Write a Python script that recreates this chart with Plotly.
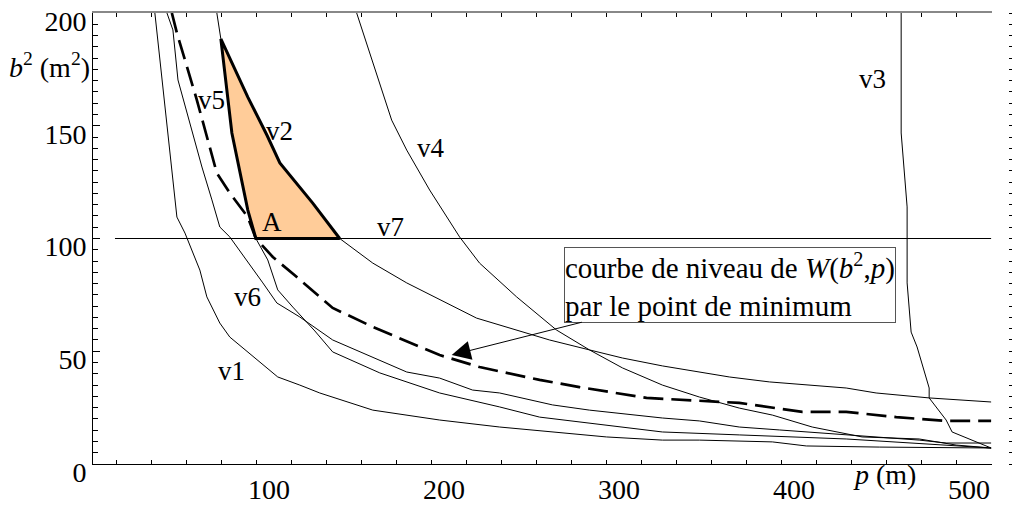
import plotly.graph_objects as go

# ---------------- data (p in m, b^2 in m^2) ----------------
p_v1 = [42.2, 48.5, 54.8, 59.4, 67.9, 71.9, 79.3, 85.0, 100.5, 112.4, 125.0, 136.4, 166.7, 204.9,
        239.2, 269.4, 300.2, 332.2, 353.3, 395.0, 414.4, 456.1, 520.0]
b_v1 = [200.0, 154.8, 109.5, 102.4, 86.0, 74.1, 62.5, 56.3, 46.1, 38.6, 35.0, 31.5, 23.9, 19.5,
        16.4, 14.2, 12.0, 10.6, 10.6, 9.8, 8.0, 7.5, 7.1]

p_v6 = [49.1, 52.5, 55.4, 69.1, 74.8, 79.3, 85.0, 94.7, 103.9, 111.9, 125.0, 143.8, 170.7, 186.1,
        204.9, 223.7, 239.2, 269.4, 290.5, 332.2, 353.3, 376.1, 399.0, 437.2, 478.9, 494.3, 520.0]
b_v6 = [200.0, 192.5, 170.3, 131.7, 117.1, 105.1, 100.7, 90.5, 80.3, 71.4, 65.2, 55.0, 46.1, 40.8,
        38.1, 32.8, 31.5, 26.2, 23.9, 20.4, 19.1, 16.4, 15.1, 12.9, 10.6, 9.3, 9.3]

p_v5 = [77.6, 79.9, 83.9, 86.2, 95.3, 99.9, 106.7, 112.4, 121.0, 133.6, 143.8, 170.7, 204.9,
        239.2, 262.0, 290.5, 332.2, 376.1, 437.2, 520.0]
b_v5 = [200.0, 188.5, 161.4, 146.8, 112.6, 100.0, 90.5, 77.2, 69.6, 59.0, 49.7, 40.4, 31.5,
        25.3, 20.8, 18.2, 14.2, 12.9, 11.1, 7.1]

p_v2 = [79.9, 95.3, 106.2, 113.6, 132.4, 147.8, 166.7, 186.1, 226.0, 267.7, 290.5, 309.4, 332.2,
        353.3, 370.4, 393.3, 437.2, 454.3, 484.6, 520.0]
b_v2 = [188.5, 162.7, 145.9, 133.5, 115.7, 100.0, 89.1, 80.3, 64.7, 55.0, 50.6, 47.0, 43.5,
        40.8, 38.6, 36.4, 33.7, 31.5, 29.3, 27.5]

p_v4 = [157.5, 166.1, 177.5, 186.1, 199.2, 216.3, 227.7, 248.9, 271.7, 290.5, 309.4, 332.2, 353.3,
        376.1, 395.0, 417.8, 446.3, 478.9, 500.0, 520.0]
b_v4 = [200.0, 179.2, 152.5, 139.2, 121.5, 100.7, 89.1, 74.1, 59.4, 50.6, 42.6, 35.0, 29.7,
        24.8, 21.7, 16.4, 12.0, 11.1, 8.4, 7.1]

p_v3 = [468.6, 468.6, 472.0, 472.0, 474.3, 477.7, 484.6, 484.6, 494.3, 497.7, 520.0]
b_v3 = [200.0, 146.8, 114.0, 80.3, 58.5, 51.9, 33.7, 29.3, 19.5, 14.2, 7.1]

p_v7 = [19.4, 520.0]
b_v7 = [100.0, 100.0]

p_W = [51.9, 54.8, 66.2, 77.6, 85.0, 95.3, 99.9, 109.6, 123.3, 136.4, 143.8, 166.7, 204.9, 227.7,
       262.0, 284.8, 323.1, 376.1, 412.1, 437.2, 465.8, 494.3, 520.0]
b_W = [200.0, 191.1, 161.4, 129.0, 120.2, 109.5, 100.0, 91.8, 82.9, 74.1, 69.2, 60.8, 48.3, 43.0,
       37.3, 34.1, 29.3, 27.1, 23.1, 23.1, 20.8, 19.1, 19.1]

x_tick_labels = [100, 200, 300, 400, 500]
y_tick_labels = [0, 50, 100, 150, 200]

curve_labels = ["v1", "v6", "v5", "v2", "A", "v7", "v4", "v3"]
label_p = [86.2, 95.3, 74.8, 113.6, 109.0, 176.9, 199.8, 452.1]
label_b = [41.2, 74.1, 161.4, 147.7, 107.3, 105.1, 140.1, 170.7]

box_text = "courbe de niveau de <i>W</i>(<i>b</i><sup>2</sup>,<i>p</i>)<br>par le point de minimum"
arrow_tip = (211.8, 48.3)
box_center = (371.0, 79.5)

X_RANGE = [6.85, 520.5]
Y_RANGE = [0, 200]
FONT = "Liberation Serif"

fig = go.Figure()

# admissible region (triangle) bounded by v5, v2 and v7
tri_p = p_v5[1:6] + p_v2[5::-1]
tri_b = b_v5[1:6] + b_v2[5::-1]
fig.add_trace(go.Scatter(x=tri_p, y=tri_b, mode="lines", fill="toself",
                         fillcolor="#FFCC99", line=dict(color="black", width=3),
                         hoverinfo="skip"))

thin = dict(color="black", width=1)
for px, bx in [(p_v1, b_v1), (p_v6, b_v6), (p_v5, b_v5), (p_v2, b_v2), (p_v4, b_v4)]:
    fig.add_trace(go.Scatter(x=px, y=bx, mode="lines", line=thin))
# v3 drawn on the top axis (same range) so that axis is rendered
fig.add_trace(go.Scatter(x=p_v3, y=b_v3, mode="lines", line=thin, xaxis="x2", yaxis="y"))
# v7 drawn on the right helper axis (same range)
fig.add_trace(go.Scatter(x=p_v7, y=b_v7, mode="lines", line=thin, xaxis="x", yaxis="y2"))

fig.add_trace(go.Scatter(x=p_W, y=b_W, mode="lines",
                         line=dict(color="black", width=2.7, dash="20px,8px")))

annotations = []
for t, px, bx in zip(curve_labels, label_p, label_b):
    annotations.append(dict(x=px, y=bx, xref="x", yref="y", text=t, showarrow=False,
                            font=dict(family=FONT, size=27, color="black"),
                            xanchor="center", yanchor="middle"))

annotations.append(dict(x=arrow_tip[0], y=arrow_tip[1], xref="x", yref="y",
                        ax=box_center[0], ay=box_center[1], axref="x", ayref="y",
                        text=box_text, align="left", showarrow=True,
                        arrowhead=2, arrowsize=3.8, arrowwidth=1, arrowcolor="black",
                        bordercolor="#555555", borderwidth=1, borderpad=0, bgcolor="white",
                        font=dict(family=FONT, size=29, color="black")))

annotations.append(dict(x=0, y=176.5, xref="paper", yref="y",
                        text="<i>b</i><sup>2</sup> (m<sup>2</sup>)", showarrow=False,
                        xanchor="right", yanchor="middle", xshift=-1,
                        font=dict(family=FONT, size=28, color="black")))
annotations.append(dict(x=459, y=0, xref="x", yref="paper",
                        text="<i>p</i> (m)", showarrow=False,
                        xanchor="center", yanchor="middle", yshift=-10,
                        font=dict(family=FONT, size=28, color="black")))

tickfont = dict(family=FONT, size=28, color="black")
dom_end = 899 / 915

fig.update_layout(
    width=1012, height=506,
    margin=dict(l=93, r=4, t=13, b=42, pad=0, autoexpand=False),
    paper_bgcolor="white", plot_bgcolor="white",
    showlegend=False,
    annotations=annotations,
    xaxis=dict(domain=[0, dom_end], range=X_RANGE, tickmode="array", tickvals=x_tick_labels,
               ticks="inside", ticklen=4, tickcolor="black", showgrid=False, zeroline=False,
               showline=True, linecolor="black", linewidth=1, tickfont=tickfont,
               ticklabelshift=13, ticklabeloverflow="allow", automargin=False,
               minor=dict(tickmode="linear", tick0=0, dtick=20, ticks="inside", ticklen=4,
                          tickcolor="black", showgrid=False)),
    xaxis2=dict(domain=[0, dom_end], range=X_RANGE, overlaying="x", side="top", anchor="y",
                tickmode="linear", tick0=0, dtick=20, ticks="inside", ticklen=4,
                tickcolor="black", showticklabels=False, showgrid=False, zeroline=False,
                showline=True, linecolor="#888888", linewidth=1.5, automargin=False),
    yaxis=dict(range=Y_RANGE, tickmode="array", tickvals=y_tick_labels, ticks="inside",
               ticklen=7, tickcolor="black", showgrid=False, zeroline=False, showline=True,
               linecolor="black", linewidth=1, tickfont=tickfont, ticklabelshift=8,
               ticklabeloverflow="allow", automargin=False,
               minor=dict(tickmode="linear", tick0=0, dtick=5, ticks="inside", ticklen=5,
                          tickcolor="black", showgrid=False)),
    yaxis2=dict(range=Y_RANGE, overlaying="y", anchor="free", position=1, side="right",
                tickmode="linear", tick0=0, dtick=5, ticks="outside", ticklen=5,
                tickcolor="black", showticklabels=False, showgrid=False, zeroline=False,
                showline=False, automargin=False),
)

fig.write_html("out.html")
